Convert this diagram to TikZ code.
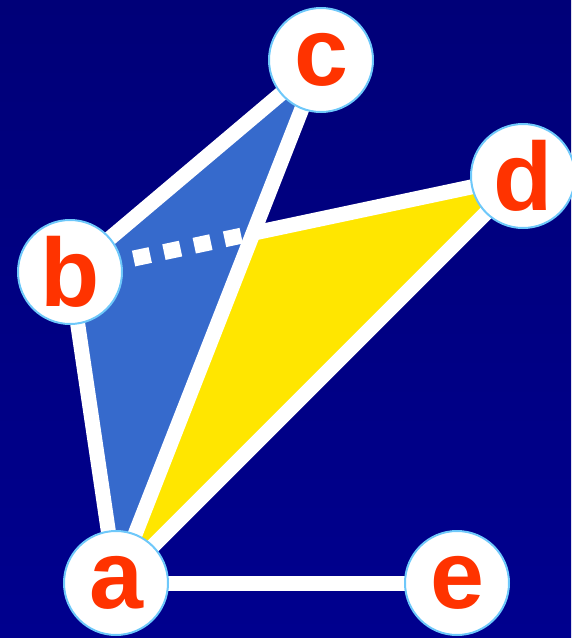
\documentclass[tikz,border=0pt]{standalone}
\usepackage{fontspec}
\setmainfont{Liberation Sans}
\usetikzlibrary{calc}
\definecolor{bgtop}{RGB}{0,0,120}
\definecolor{bgbot}{RGB}{0,0,142}
\definecolor{triblue}{RGB}{54,106,204}
\definecolor{triyellow}{RGB}{255,230,0}
\definecolor{lettercol}{RGB}{255,51,0}
\definecolor{ringcol}{RGB}{110,200,250}
\tikzset{
  vertex/.style={circle, fill=white, draw=ringcol, line width=2pt,
    minimum size=104pt, inner sep=0pt, text=lettercol,
    font=\fontsize{97}{97}\selectfont\bfseries},
  edge/.style={draw=white, line width=15pt},
  dashededge/.style={draw=white, line width=16pt, dash pattern=on 17pt off 14pt, dash phase=19pt}
}
\begin{document}
\begin{tikzpicture}[x=1pt,y=-1pt]
\shade[top color=bgtop, bottom color=bgbot] (0,0) rectangle (571,638);
\useasboundingbox (0,0) rectangle (571,638);
\coordinate (A) at (116,583);
\coordinate (B) at (70,272);
\coordinate (C) at (321,60);
\coordinate (D) at (523,176);
\coordinate (E) at (457,583);
\coordinate (X) at (intersection of A--C and B--D);
% filled faces
\fill[triblue] (A) -- (B) -- (C) -- cycle;
\fill[triyellow] (A) -- (X) -- (D) -- cycle;
% edges
\path[edge] (B) -- (C);
\path[edge] (B) -- (A);
\path[edge] (A) -- (C);
\path[edge] (A) -- (D);
\path[edge] (X) -- (D);
\path[edge] (A) -- (E);
% nodes
\node[vertex] (a) at (A) {a};
\node[vertex] (b) at (B) {b};
\node[vertex] (c) at (C) {c};
\node[vertex] (d) at (D) {d};
\node[vertex] (e) at (E) {e};
\path[dashededge] (b) -- (X);
\end{tikzpicture}
\end{document}
